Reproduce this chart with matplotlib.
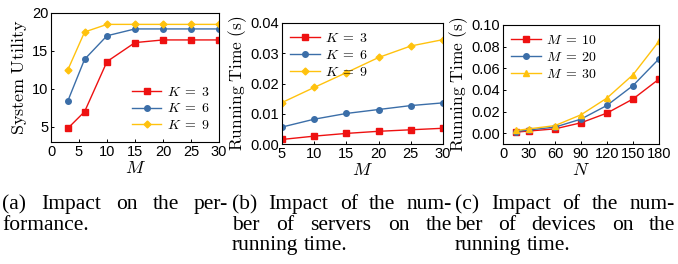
import matplotlib
matplotlib.use("Agg")
import matplotlib.pyplot as plt

plt.rcParams['mathtext.fontset'] = 'cm'
plt.rcParams['font.family'] = ['Liberation Sans', 'DejaVu Sans']

RED = '#ee1111'
BLUE = '#3b6ea8'
GOLD = '#ffc20e'

# Panel (a)
a_M = [3, 6, 10, 15, 20, 25, 30]
a_K3 = [4.8, 7.0, 13.6, 16.1, 16.45, 16.45, 16.45]
a_K6 = [8.4, 13.9, 17.0, 17.9, 17.9, 17.9, 17.9]
a_K9 = [12.5, 17.5, 18.5, 18.5, 18.5, 18.5, 18.5]

# Panel (b)
b_M = [5, 10, 15, 20, 25, 30]
b_K3 = [0.0015, 0.0026, 0.0035, 0.0042, 0.0047, 0.0052]
b_K6 = [0.0056, 0.0082, 0.0101, 0.0114, 0.0127, 0.0136]
b_K9 = [0.0137, 0.0187, 0.0236, 0.0286, 0.0324, 0.0345]

# Panel (c)
c_N = [15, 30, 60, 90, 120, 150, 180]
c_M10 = [0.0010, 0.0020, 0.0040, 0.0096, 0.0186, 0.0316, 0.0500]
c_M20 = [0.0015, 0.0030, 0.0056, 0.0130, 0.0257, 0.0440, 0.0687]
c_M30 = [0.0025, 0.0040, 0.0070, 0.0170, 0.0325, 0.0540, 0.0850]

captions = [
    [["(a)", "Impact", "on", "the", "per-"], ["formance."]],
    [["(b)", "Impact", "of", "the", "num-"], ["ber", "of", "servers", "on", "the"], ["running", "time."]],
    [["(c)", "Impact", "of", "the", "num-"], ["ber", "of", "devices", "on", "the"], ["running", "time."]],
]

fig = plt.figure(figsize=(6.78, 2.64), dpi=100)

def fpos(l, r, t, b):
    return [l / 678, 1 - b / 264, (r - l) / 678, (b - t) / 264]

axA = fig.add_axes(fpos(51, 219, 13, 142))
axB = fig.add_axes(fpos(282, 443, 23, 144))
axC = fig.add_axes(fpos(503, 659, 25, 144))

lw = 1.0
ms = 4.0
leg_kw = dict(frameon=False, fontsize=10, handlelength=2.1,
              labelspacing=0.2, handletextpad=0.4)

axA.plot(a_M, a_K3, color=RED, marker='s', lw=lw, ms=ms, label=r'$K\;=\;3$')
axA.plot(a_M, a_K6, color=BLUE, marker='o', lw=lw, ms=ms, label=r'$K\;=\;6$')
axA.plot(a_M, a_K9, color=GOLD, marker='D', lw=lw, ms=ms - 0.5, label=r'$K\;=\;9$')
axA.set_xlim(0, 30)
axA.set_ylim(3, 20)
axA.set_xticks([0, 5, 10, 15, 20, 25, 30])
axA.set_yticks([5, 10, 15, 20])
axA.set_ylabel(r'$\mathrm{System\ Utility}$', fontsize=13, labelpad=2)
axA.set_xlabel(r'$M$', fontsize=13, labelpad=1)
axA.legend(loc='lower right', borderaxespad=0.3, **leg_kw)

axB.plot(b_M, b_K3, color=RED, marker='s', lw=lw, ms=ms, label=r'$K\;=\;3$')
axB.plot(b_M, b_K6, color=BLUE, marker='o', lw=lw, ms=ms, label=r'$K\;=\;6$')
axB.plot(b_M, b_K9, color=GOLD, marker='D', lw=lw, ms=ms - 0.5, label=r'$K\;=\;9$')
axB.set_xlim(5, 30)
axB.set_ylim(0, 0.04)
axB.set_xticks([5, 10, 15, 20, 25, 30])
axB.set_yticks([0, 0.01, 0.02, 0.03, 0.04])
axB.set_yticklabels(['0.00', '0.01', '0.02', '0.03', '0.04'])
axB.set_ylabel(r'$\mathrm{Running\ Time\ (s)}$', fontsize=12.5, labelpad=1)
axB.set_xlabel(r'$M$', fontsize=13, labelpad=1)
axB.legend(loc='upper left', borderaxespad=0.2, **leg_kw)

axC.plot(c_N, c_M10, color=RED, marker='s', lw=lw, ms=ms, label=r'$M\;=\;10$')
axC.plot(c_N, c_M20, color=BLUE, marker='o', lw=lw, ms=ms, label=r'$M\;=\;20$')
axC.plot(c_N, c_M30, color=GOLD, marker='^', lw=lw, ms=ms, label=r'$M\;=\;30$')
axC.set_xlim(0, 180)
axC.set_ylim(-0.01, 0.10)
axC.set_xticks([0, 30, 60, 90, 120, 150, 180])
axC.set_yticks([0, 0.02, 0.04, 0.06, 0.08, 0.10])
axC.set_yticklabels(['0.00', '0.02', '0.04', '0.06', '0.08', '0.10'])
axC.set_ylabel(r'$\mathrm{Running\ Time\ (s)}$', fontsize=12.5, labelpad=1)
axC.set_xlabel(r'$N$', fontsize=13, labelpad=1)
axC.legend(loc='upper left', borderaxespad=0.2, **leg_kw)

for ax in (axA, axB, axC):
    ax.tick_params(direction='in', length=2.5, width=0.7, labelsize=10.5, pad=2,
                   top=False, right=False)
    for s in ax.spines.values():
        s.set_linewidth(0.8)

# Captions, justified
cap_font = dict(family='Liberation Serif', fontsize=15.5)
cols = [(2, 228), (232, 452), (455, 675)]
line_y = [209, 230, 250]
fig.canvas.draw()
renderer = fig.canvas.get_renderer()
for ci, lines in enumerate(captions):
    x0, x1 = cols[ci]
    for li, words in enumerate(lines):
        y = 1 - line_y[li] / 264
        last = (li == len(lines) - 1)
        texts = []
        widths = []
        for w in words:
            t = fig.text(0, y, w, va='baseline', ha='left', **cap_font)
            bb = t.get_window_extent(renderer)
            texts.append(t)
            widths.append(bb.width)
        space_t = fig.text(0, y, 'a a', **cap_font)
        aa = fig.text(0, y, 'aa', **cap_font)
        sp = space_t.get_window_extent(renderer).width - aa.get_window_extent(renderer).width
        space_t.remove(); aa.remove()
        if last or len(words) == 1:
            gap = sp
        else:
            gap = (x1 - x0 - sum(widths)) / (len(words) - 1)
        x = x0
        for t, w in zip(texts, widths):
            t.set_x(x / 678)
            x += w + gap

fig.savefig('out.png', dpi=100)
